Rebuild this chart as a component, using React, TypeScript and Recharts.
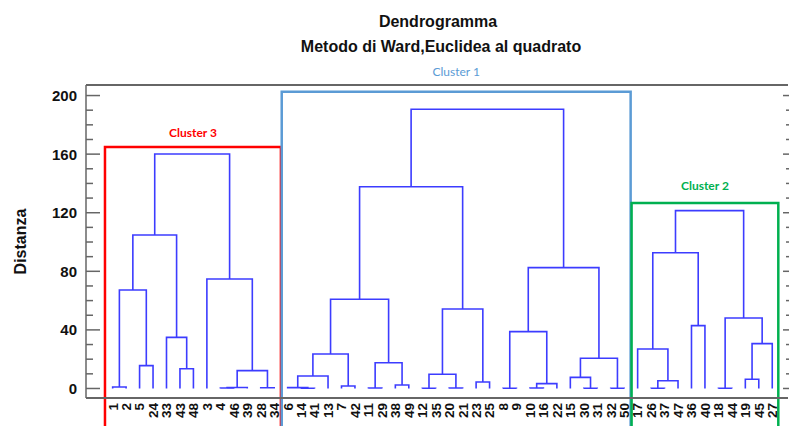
import React from "react";
import { ComposedChart, Line, XAxis, YAxis, ReferenceArea, ReferenceLine } from "recharts";

// ---------- data ----------
const leafLabels = [
  "1", "2", "5", "24", "33", "43", "48", "3", "4", "46", "39", "28", "34",
  "6", "14", "41", "13", "7", "42", "11", "29", "38", "49", "12", "35", "20", "21", "23", "25",
  "8", "9", "10", "16", "22", "15", "30", "31", "32", "50",
  "17", "26", "37", "47", "36", "40", "18", "44", "19", "45", "27",
];

// [left, right, height]; "mK" refers to merge number K
const merges: [string, string, number][] = [
  // cluster 3
  ["1", "2", 1.0],
  ["5", "24", 15.6],
  ["m0", "m1", 67.2],
  ["43", "48", 13.5],
  ["33", "m3", 34.9],
  ["m2", "m4", 104.8],
  ["4", "46", 0.3],
  ["m6", "39", 0.7],
  ["28", "34", 0.5],
  ["m7", "m8", 12.2],
  ["3", "m9", 74.7],
  ["m5", "m10", 160.1],
  // cluster 1
  ["14", "41", 0.2],
  ["6", "m12", 0.6],
  ["m13", "13", 8.5],
  ["7", "42", 1.7],
  ["m14", "m15", 23.5],
  ["11", "29", 0.3],
  ["38", "49", 2.4],
  ["m17", "m18", 17.6],
  ["m16", "m19", 60.9],
  ["12", "35", 0.2],
  ["20", "21", 0.3],
  ["m21", "m22", 9.7],
  ["23", "25", 4.4],
  ["m23", "m24", 54.3],
  ["m20", "m25", 137.7],
  ["8", "9", 0.2],
  ["10", "16", 0.3],
  ["m28", "22", 3.3],
  ["m27", "m29", 38.8],
  ["30", "31", 0.2],
  ["15", "m31", 7.6],
  ["32", "50", 0.2],
  ["m32", "m33", 20.6],
  ["m30", "m34", 82.5],
  ["m26", "m35", 190.6],
  // cluster 2
  ["26", "37", 0.2],
  ["m37", "47", 5.3],
  ["17", "m38", 27.0],
  ["36", "40", 42.9],
  ["m39", "m40", 92.7],
  ["18", "44", 0.2],
  ["19", "45", 6.3],
  ["m43", "27", 30.6],
  ["m42", "m44", 48.1],
  ["m41", "m45", 121.4],
];

const clusterNames = ["Cluster 3", "Cluster 1", "Cluster 2"];
const clusterFirstLeaf = ["1", "6", "17"];
const clusterLastLeaf = ["34", "50", "27"];
const clusterBoxTop = [164.8, 202.6, 126.6];

const yTicks = [0, 10, 20, 30, 40, 50, 60, 70, 80, 90, 100, 110, 120, 130, 140, 150, 160, 170, 180, 190, 200];
const yMajorStep = 40;

const titleText = "Dendrogramma";
const subtitleText = "Metodo di Ward,Euclidea al quadrato";
const yAxisTitle = "Distanza";

// ---------- styles ----------
const W = 789;
const H = 426;
const X_DOMAIN: [number, number] = [-1.98, 50.17];
const Y_DOMAIN: [number, number] = [-6.5, 207.2];
const LINK_COLOR = "#3c3cff";
const AXIS_COLOR = "#666666";
const clusterColors = ["#ff0000", "#5b9bd5", "#00b050"];
const clusterLabelWeight = ["bold", "normal", "bold"];
const boxPad: [number, number][] = [[0.57, 0.5], [0.44, 0.48], [0.45, 0.45]];
const labelGap = [10, 15.7, 13];
const FONT = '"Liberation Sans", Arial, sans-serif';
const LABEL_FONT = 'Lato, "Open Sans", sans-serif';

// ---------- build dendrogram links through leaf indices ----------
const leafIndex = new Map<string, number>(leafLabels.map((l, i) => [l, i]));
const nodes: { x: number; h: number }[] = [];
const getNode = (ref: string) =>
  ref.startsWith("m") ? nodes[Number(ref.slice(1))] : { x: leafIndex.get(ref) as number, h: 0 };
const links = merges.map(([a, b, h], k) => {
  const A = getNode(a);
  const B = getNode(b);
  nodes[k] = { x: (A.x + B.x) / 2, h };
  return [
    { x: A.x, y: A.h },
    { x: A.x, y: h },
    { x: B.x, y: h },
    { x: B.x, y: B.h },
  ];
});

const leftTick = (props: any) => {
  const { x, y, payload } = props;
  const major = payload.value % yMajorStep === 0;
  return (
    <g>
      <line x1={x} x2={x + (major ? 14 : 7)} y1={y} y2={y} stroke={AXIS_COLOR} strokeWidth={1.5} />
      {major && (
        <text x={x - 9} y={y} dy="0.36em" textAnchor="end" fontFamily={FONT} fontWeight="bold" fontSize={15} fill="#111">
          {payload.value}
        </text>
      )}
    </g>
  );
};

const rightTick = (props: any) => {
  const { x, y, payload } = props;
  const major = payload.value % yMajorStep === 0;
  return <line x1={x + 1} x2={x + 1 - (major ? 6 : 3)} y1={y} y2={y} stroke={AXIS_COLOR} strokeWidth={1.5} />;
};

const bottomTick = (props: any) => {
  const { x, y, payload } = props;
  const label = leafLabels[payload.value];
  return (
    <text
      x={x}
      y={y + 5}
      dy="0.36em"
      transform={`rotate(-90, ${x}, ${y + 5})`}
      textAnchor="end"
      fontFamily={FONT}
      fontWeight="bold"
      fontSize={13.5}
      fill="#111"
    >
      {label}
    </text>
  );
};

export default function App() {
  return (
    <div style={{ position: "absolute", left: 0, top: 0, width: W, height: H, background: "#fff", overflow: "hidden" }}>
      <div
        style={{
          position: "absolute", left: 0, top: 13, width: 876, textAlign: "center",
          fontFamily: FONT, fontWeight: "bold", fontSize: 16, lineHeight: "18px", color: "#111",
        }}
      >
        {titleText}
      </div>
      <div
        style={{
          position: "absolute", left: 0, top: 38, width: 882, textAlign: "center",
          fontFamily: FONT, fontWeight: "bold", fontSize: 16, lineHeight: "18px", color: "#111",
        }}
      >
        {subtitleText}
      </div>
      <ComposedChart width={W} height={H} margin={{ top: 85, right: 0, bottom: 0, left: 0 }}>
        <XAxis
          type="number"
          dataKey="x"
          domain={X_DOMAIN}
          allowDataOverflow
          ticks={leafLabels.map((_, i) => i)}
          interval={0}
          height={28}
          tickSize={0}
          tickMargin={0}
          tickLine={false}
          tick={bottomTick}
          axisLine={{ stroke: AXIS_COLOR, strokeWidth: 2 }}
        />
        <YAxis
          yAxisId="left"
          type="number"
          domain={Y_DOMAIN}
          allowDataOverflow
          ticks={yTicks}
          interval={0}
          width={86}
          tickSize={0}
          tickMargin={0}
          tickLine={false}
          tick={leftTick}
          axisLine={{ stroke: AXIS_COLOR, strokeWidth: 1.5 }}
          label={(p: any) => {
            const vb = p.viewBox || { x: 0, y: 85, width: 86, height: 313 };
            const cy = vb.y + vb.height / 2;
            return (
              <text
                x={20}
                y={cy}
                dy="0.36em"
                transform={`rotate(-90, 20, ${cy})`}
                textAnchor="middle"
                fontFamily={FONT}
                fontWeight="bold"
                fontSize={16}
                fill="#111"
              >
                {yAxisTitle}
              </text>
            );
          }}
        />
        <YAxis
          yAxisId="right"
          orientation="right"
          type="number"
          domain={Y_DOMAIN}
          allowDataOverflow
          ticks={yTicks}
          interval={0}
          width={1}
          tickSize={0}
          tickMargin={0}
          tickLine={false}
          tick={rightTick}
          axisLine={false}
        />
        <ReferenceLine yAxisId="left" y={Y_DOMAIN[1]} stroke={AXIS_COLOR} strokeWidth={2} ifOverflow="visible" />
        {links.map((pts, i) => (
          <Line
            key={`link-${i}`}
            yAxisId="left"
            data={pts}
            dataKey="y"
            type="linear"
            stroke={LINK_COLOR}
            strokeWidth={1.6}
            dot={false}
            activeDot={false}
            isAnimationActive={false}
            legendType="none"
          />
        ))}
        {clusterNames.map((name, i) => (
          <ReferenceArea
            key={name}
            yAxisId="left"
            x1={(leafIndex.get(clusterFirstLeaf[i]) as number) - boxPad[i][0]}
            x2={(leafIndex.get(clusterLastLeaf[i]) as number) + boxPad[i][1]}
            y1={-40}
            y2={clusterBoxTop[i]}
            ifOverflow="visible"
            fill="none"
            fillOpacity={0}
            stroke={clusterColors[i]}
            strokeWidth={2.5}
            label={(p: any) => {
              const vb = p.viewBox;
              if (!vb) return null;
              return (
                <text
                  x={vb.x + vb.width / 2}
                  y={vb.y - labelGap[i]}
                  textAnchor="middle"
                  fontFamily={LABEL_FONT}
                  fontWeight={clusterLabelWeight[i]}
                  fontSize={12}
                  fill={clusterColors[i]}
                >
                  {name}
                </text>
              );
            }}
          />
        ))}
      </ComposedChart>
    </div>
  );
}
